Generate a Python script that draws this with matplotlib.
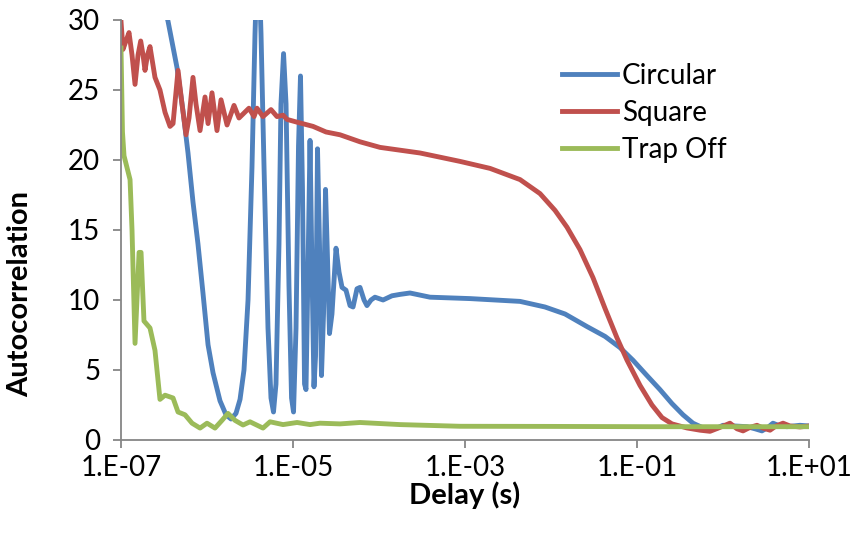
import numpy as np
import matplotlib
matplotlib.use("Agg")
import matplotlib.pyplot as plt

plt.rcParams['font.family'] = ['Lato', 'DejaVu Sans']

# log10(delay in s) and autocorrelation values
circ_logt = [-7.0, -6.663, -6.453, -6.349, -6.279, -6.221, -6.163, -6.105, -6.047, -5.988,
             -5.930, -5.849, -5.779, -5.721, -5.663, -5.616, -5.570, -5.523, -5.477, -5.442,
             -5.407, -5.372, -5.337, -5.291, -5.256, -5.227, -5.198, -5.163, -5.140, -5.110,
             -5.081, -5.047, -5.017, -4.994, -4.965, -4.936, -4.913, -4.890, -4.866, -4.849,
             -4.826, -4.802, -4.779, -4.756, -4.738, -4.715, -4.692, -4.669, -4.645, -4.622,
             -4.599, -4.576, -4.547, -4.500, -4.465, -4.430, -4.384, -4.337, -4.302, -4.256,
             -4.221, -4.174, -4.140, -4.093, -4.047, -3.953, -3.849, -3.756, -3.640, -3.407,
             -2.942, -2.360, -2.070, -1.837, -1.581, -1.372, -1.198, -1.047, -0.884, -0.733,
             -0.593, -0.465, -0.349, -0.244, -0.151, -0.070, 0.0, 0.140, 0.279, 0.372,
             0.453, 0.523, 0.581, 0.663, 0.744, 0.895, 1.0]
circ_val = [42, 35, 29.9, 26.6, 23.5, 20.5, 17.0, 14.0, 10.5, 6.8,
            4.8, 2.8, 1.8, 1.5, 1.9, 2.9, 5.0, 10.0, 19.5, 29,
            36, 29, 19.5, 8.0, 3.0, 2.0, 4.0, 14, 24, 27.6,
            24, 11, 3.0, 2.0, 8, 21, 26, 18, 4.0, 3.6,
            12, 21.4, 12, 3.8, 6, 20.8, 14, 4.6, 9, 17.9,
            13, 7.6, 9, 13.7, 12.0, 10.9, 10.7, 9.6, 9.5, 10.8,
            10.9, 10.0, 9.6, 10.0, 10.2, 10.0, 10.3, 10.4, 10.5, 10.2,
            10.1, 9.9, 9.5, 9.0, 8.1, 7.4, 6.6, 5.7, 4.6, 3.6,
            2.6, 1.8, 1.2, 0.9, 0.75, 0.85, 1.05, 1.0, 0.95, 0.8,
            0.65, 0.9, 1.2, 1.0, 0.95, 1.05, 1.0]

sq_logt = [-7.0, -6.977, -6.942, -6.907, -6.872, -6.837, -6.802, -6.771, -6.744, -6.721,
           -6.692, -6.663, -6.605, -6.547, -6.488, -6.430, -6.395, -6.337, -6.291, -6.244,
           -6.209, -6.163, -6.128, -6.081, -6.023, -5.988, -5.942, -5.884, -5.837, -5.767,
           -5.686, -5.628, -5.512, -5.453, -5.419, -5.349, -5.256, -5.186, -5.116, -5.070,
           -4.953, -4.767, -4.616, -4.453, -4.221, -3.988, -3.523, -3.058, -2.709, -2.360,
           -2.128, -1.953, -1.814, -1.663, -1.512, -1.372, -1.233, -1.116, -0.965, -0.826,
           -0.709, -0.593, -0.419, -0.267, -0.151, -0.035, 0.081, 0.163, 0.233, 0.314,
           0.395, 0.465, 0.547, 0.616, 0.698, 0.779, 0.895, 1.0]
sq_val = [29.9, 27.9, 28.5, 29.1, 27.5, 25.4, 27.5, 28.5, 27.5, 26.4,
          27.5, 28.1, 25.9, 25.0, 23.4, 22.4, 22.6, 26.4, 24.0, 21.8,
          23.0, 25.9, 24.0, 22.1, 24.5, 22.6, 24.8, 22.1, 24.3, 22.5,
          23.9, 23.0, 23.7, 23.1, 23.7, 23.1, 23.6, 23.1, 23.2, 22.9,
          22.7, 22.4, 22.0, 21.8, 21.3, 20.9, 20.5, 19.9, 19.4, 18.6,
          17.6, 16.4, 15.2, 13.6, 11.6, 9.4, 7.3, 5.7, 3.9, 2.5,
          1.6, 1.15, 0.86, 0.7, 0.62, 0.9, 1.2, 0.8, 0.65, 0.9,
          1.05, 0.85, 0.7, 1.0, 1.2, 1.0, 0.93, 1.0]

trap_logt = [-7.0, -6.983, -6.965, -6.895, -6.872, -6.837, -6.79, -6.767, -6.733, -6.663,
             -6.605, -6.547, -6.488, -6.395, -6.337, -6.256, -6.174, -6.081, -6.0, -5.907,
             -5.826, -5.756, -5.674, -5.581, -5.5, -5.349, -5.267, -5.116, -4.953, -4.802,
             -4.686, -4.453, -4.221, -3.756, -3.058, -2.012, -0.849, 1.0]
trap_val = [28.0, 22.0, 20.3, 18.6, 15.0, 6.9, 13.4, 13.4, 8.5, 8.0,
            6.4, 2.9, 3.2, 3.0, 2.0, 1.8, 1.2, 0.85, 1.2, 0.85,
            1.4, 1.9, 1.4, 1.07, 1.3, 0.85, 1.3, 1.1, 1.25, 1.1,
            1.2, 1.15, 1.25, 1.1, 0.98, 0.97, 0.95, 0.95]

x_ticks = [1e-7, 1e-5, 1e-3, 1e-1, 1e1]
x_ticklabels = ['1.E-07', '1.E-05', '1.E-03', '1.E-01', '1.E+01']

fig = plt.figure(figsize=(8.54, 5.33), dpi=100)
ax = fig.add_axes([0.1417, 0.1745, 0.8056, 0.788])

ax.plot(10 ** np.array(circ_logt), circ_val, color='#4F81BD', lw=3.5, label='Circular')
ax.plot(10 ** np.array(sq_logt), sq_val, color='#C0504D', lw=3.5, label='Square')
ax.plot(10 ** np.array(trap_logt), trap_val, color='#9BBB59', lw=3.5, label='Trap Off')

ax.set_xscale('log')
ax.set_xlim(1e-7, 1e1)
ax.set_ylim(0, 30)
ax.set_xticks(x_ticks)
ax.set_xticklabels(x_ticklabels)
ax.xaxis.set_minor_locator(matplotlib.ticker.NullLocator())
ax.set_yticks(range(0, 31, 5))

for s in ['top', 'right']:
    ax.spines[s].set_visible(False)
for s in ['left', 'bottom']:
    ax.spines[s].set_color('#868686')
    ax.spines[s].set_linewidth(1.3)
ax.tick_params(axis='both', direction='out', length=6, width=1.3, color='#868686',
               labelsize=20)
ax.tick_params(axis='y', pad=9)
ax.tick_params(axis='x', pad=5)

ax.set_xlabel('Delay (s)', fontsize=21, fontweight='bold', labelpad=0)
ax.set_ylabel('Autocorrelation', fontsize=21, fontweight='bold')
ax.yaxis.set_label_coords(-0.127, 0.348)

ax.legend(loc='upper left', bbox_to_anchor=(0.658, 0.882), bbox_transform=fig.transFigure,
          frameon=False, fontsize=20, handlelength=2.0, handletextpad=0.15,
          labelspacing=0.39, borderpad=0, borderaxespad=0)

fig.savefig('out.png', dpi=100)
